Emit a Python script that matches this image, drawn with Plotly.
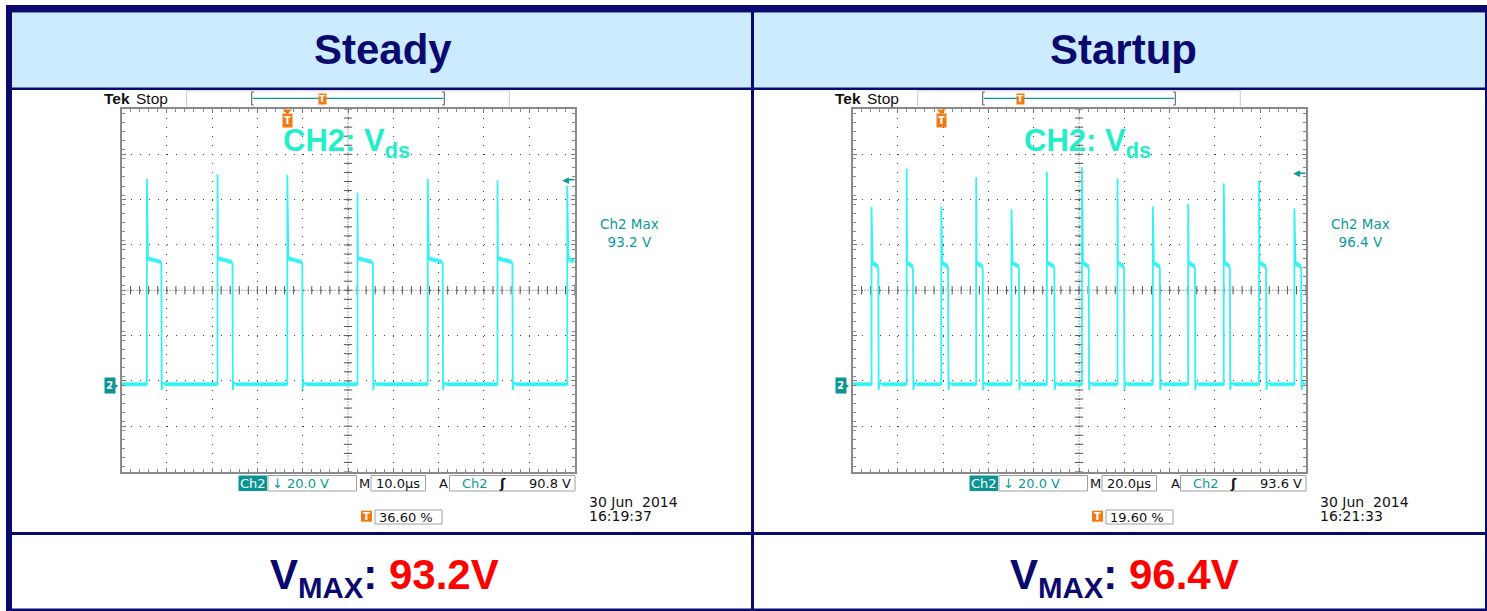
import numpy as np
import plotly.graph_objects as go

# ---------------- data ----------------
panel_titles = ["Steady", "Startup"]
vmax_labels = ["93.2V", "96.4V"]
ch2_max_labels = ["93.2 V", "96.4 V"]
volts_per_div = ["20.0 V", "20.0 V"]
time_per_div = ["10.0µs", "20.0µs"]
trigger_levels = [90.8, 93.6]          # V
trigger_level_labels = ["90.8 V", "93.6 V"]
trigger_pos_pct = [36.60, 19.60]
trigger_pos_labels = ["36.60 %", "19.60 %"]
dates = ["30 Jun  2014", "30 Jun  2014"]
times = ["16:19:37", "16:21:33"]

# steady (10 us/div, 100 us window)
steady_rise_us = [5.6, 21.2, 36.6, 52.1, 67.6, 83.0, 98.4]
steady_fall_us = [8.8, 24.5, 39.9, 55.5, 70.9, 86.3]
steady_peak_v = [91.3, 93.2, 93.0, 85.0, 91.3, 90.5, 88.2]
steady_plateau_v = 55.0

# startup (20 us/div, 200 us window)
startup_rise_us = [8.4, 23.9, 39.2, 54.6, 70.2, 85.8, 101.3, 117.0, 132.6, 148.2, 163.9, 179.5, 195.1]
startup_fall_us = [11.4, 26.7, 42.2, 57.5, 73.5, 89.1, 104.3, 119.9, 135.7, 151.2, 166.6, 182.6, 198.1]
startup_peak_v = [78.8, 95.6, 79.0, 91.9, 77.6, 94.2, 96.4, 91.3, 79.0, 80.2, 89.2, 90.5, 78.1]
startup_plateau_v = 53.0

x_ranges = [[0, 100], [0, 200]]
y_range = [-38, 122]   # 20 V/div, ground 2.1 div below centre

# ---------------- helpers ----------------
W, H = 1487, 611
NAVY = "#0A0A6E"
TEAL = "#0A9A9A"
TRACE = "#33F2F2"
ORANGE = "#F07A10"
SCOPE_FONT = "DejaVu Sans"
TITLE_FONT = "Liberation Sans, Arial"


def X(p):
    return p / W


def Y(p):
    return 1 - p / H


def wave(rise, fall, peak, plateau, t_end, dt):
    xs, ys = [0.0], [0.5]
    for i, r in enumerate(rise):
        xs += [r, r, r + dt, r + 3 * dt]
        ys += [0.5, peak[i], plateau + 2.5, plateau + 1]
        if i < len(fall):
            f = fall[i]
            xs += [f, f + dt, f + 4 * dt, f + 10 * dt]
            ys += [plateau - 1, -2.0, 1.5, 0.5]
        else:
            xs += [t_end]
            ys += [plateau]
    if len(fall) == len(rise):
        xs.append(t_end)
        ys.append(0.5)
    return xs, ys


def band(rise, fall, plateau, t_end, dt):
    """flat (noisy, thick) parts of the trace: baseline and plateau segments"""
    xs, ys = [], []
    start = 0.0
    for i, r in enumerate(rise):
        xs += [start, r - dt, None]
        ys += [0.5, 0.5, None]
        end = fall[i] if i < len(fall) else t_end
        xs += [r + 3 * dt, end - dt, None]
        ys += [plateau + 1, plateau - 0.5, None]
        start = end + 10 * dt
    if len(fall) == len(rise):
        xs += [start, t_end]
        ys += [0.5, 0.5]
    return xs, ys


fig = go.Figure()
shapes = []
annots = []

# ---------------- table ----------------
def rect(x0, y0, x1, y1, fill, line=None):
    shapes.append(dict(type="rect", xref="paper", yref="paper",
                       x0=X(x0), x1=X(x1), y0=Y(y1), y1=Y(y0),
                       fillcolor=fill, line=dict(width=0) if line is None else line,
                       layer="below"))

rect(12, 12.5, 1487, 88, "#CCEBFF")
rect(6, 5, 1487, 12.5, NAVY)
rect(6, 5, 12, 611, NAVY)
rect(1485, 5, 1487, 611, NAVY)
rect(6, 87.5, 1487, 90, NAVY)
rect(6, 532, 1487, 535, NAVY)
rect(6, 608.5, 1487, 611, NAVY)
rect(751, 5, 754, 611, NAVY)

for i, cx in enumerate([383, 1123]):
    annots.append(dict(xref="paper", yref="paper", x=X(cx), y=Y(50), text="<b>%s</b>" % panel_titles[i],
                       showarrow=False, xanchor="center", yanchor="middle",
                       font=dict(family=TITLE_FONT, size=42, color=NAVY)))
    annots.append(dict(xref="paper", yref="paper", x=X(cx + 1), y=Y(577),
                       text="<b>V<sub>MAX</sub>: <span style='color:#FF0000'>%s</span></b>" % vmax_labels[i],
                       showarrow=False, xanchor="center", yanchor="middle",
                       font=dict(family=TITLE_FONT, size=42, color=NAVY)))

# ---------------- scopes ----------------
dom_left = [121.5, 852.5]
gw = 453.0
dom_top, dom_bot = 109.0, 471.5

waves = [
    wave(steady_rise_us, steady_fall_us, steady_peak_v, steady_plateau_v, x_ranges[0][1], 0.08),
    wave(startup_rise_us, startup_fall_us, startup_peak_v, startup_plateau_v, x_ranges[1][1], 0.16),
]
bands = [
    band(steady_rise_us, steady_fall_us, steady_plateau_v, x_ranges[0][1], 0.08),
    band(startup_rise_us, startup_fall_us, startup_plateau_v, x_ranges[1][1], 0.16),
]

layout_axes = {}
for k in range(2):
    xa = "x" if k == 0 else "x2"
    ya = "y" if k == 0 else "y2"
    xr = x_ranges[k]
    xdiv = (xr[1] - xr[0]) / 10
    ydiv = 20
    xkey = "xaxis" if k == 0 else "xaxis2"
    ykey = "yaxis" if k == 0 else "yaxis2"
    common = dict(showticklabels=False, zeroline=False, showline=True, linecolor="#8A8A8A",
                  linewidth=2, mirror="ticks", ticks="inside", ticklen=4, tickcolor="#777",
                  showgrid=True, gridcolor="#444", gridwidth=1, griddash="1px,8.06px",
                  fixedrange=True)
    layout_axes[xkey] = dict(common, range=xr, domain=[X(dom_left[k]), X(dom_left[k] + gw)],
                             anchor=ya, tick0=0, dtick=xdiv,
                             minor=dict(dtick=xdiv / 5, ticks="inside", ticklen=3, tickcolor="#888", showgrid=False))
    layout_axes[ykey] = dict(common, range=y_range, domain=[Y(dom_bot), Y(dom_top)],
                             anchor=xa, tick0=y_range[0], dtick=ydiv,
                             minor=dict(dtick=ydiv / 5, ticks="inside", ticklen=3, tickcolor="#888", showgrid=False))

    xc = (xr[0] + xr[1]) / 2
    yc = (y_range[0] + y_range[1]) / 2
    # centre cross of the graticule
    fig.add_trace(go.Scatter(x=[xr[0], xr[1]], y=[yc, yc], xaxis=xa, yaxis=ya, mode="lines",
                             line=dict(color="#555", width=1, dash="1px,2px"), hoverinfo="skip", showlegend=False))
    fig.add_trace(go.Scatter(x=[xc, xc], y=y_range, xaxis=xa, yaxis=ya, mode="lines",
                             line=dict(color="#555", width=1, dash="1px,2px"), hoverinfo="skip", showlegend=False))
    mx = np.arange(xr[0], xr[1] + 1e-9, xdiv / 5)
    my = np.arange(y_range[0], y_range[1] + 1e-9, ydiv / 5)
    fig.add_trace(go.Scatter(x=mx, y=[yc] * len(mx), xaxis=xa, yaxis=ya, mode="markers",
                             marker=dict(symbol="line-ns", size=6, line=dict(color="#555", width=1)),
                             hoverinfo="skip", showlegend=False))
    fig.add_trace(go.Scatter(x=[xc] * len(my), y=my, xaxis=xa, yaxis=ya, mode="markers",
                             marker=dict(symbol="line-ew", size=6, line=dict(color="#555", width=1)),
                             hoverinfo="skip", showlegend=False))
    # waveform: thick flat parts + thin full trace
    bx, by = bands[k]
    fig.add_trace(go.Scatter(x=bx, y=by, xaxis=xa, yaxis=ya, mode="lines", connectgaps=False,
                             line=dict(color=TRACE, width=4), opacity=0.9, hoverinfo="skip", showlegend=False))
    wx, wy = waves[k]
    fig.add_trace(go.Scatter(x=wx, y=wy, xaxis=xa, yaxis=ya, mode="lines",
                             line=dict(color=TRACE, width=1.8), hoverinfo="skip", showlegend=False))

    dx = dom_left[k] - dom_left[0]

    # Tek Stop
    annots.append(dict(xref="paper", yref="paper", x=X(102 + dx), y=Y(98), xanchor="left", yanchor="middle",
                       text="<b>Tek</b>", showarrow=False,
                       font=dict(family="Liberation Sans", size=15.5, color="#111")))
    annots.append(dict(xref="paper", yref="paper", x=X(134 + dx), y=Y(98), xanchor="left", yanchor="middle",
                       text="Stop", showarrow=False,
                       font=dict(family="Liberation Sans", size=15.5, color="#111")))
    # top status bar separators and record bracket
    for sx in [186.7, 509.3]:
        shapes.append(dict(type="line", xref="paper", yref="paper", x0=X(sx + dx), x1=X(sx + dx),
                           y0=Y(106), y1=Y(90.5), line=dict(color="#C8C8C8", width=1)))
    shapes.append(dict(type="line", xref="paper", yref="paper", x0=X(186.7 + dx), x1=X(509.3 + dx),
                       y0=Y(90.8), y1=Y(90.8), line=dict(color="#D0D0D0", width=1)))
    b0, b1 = 251.7 + dx, 444.3 + dx
    for bxx, sgn in [(b0, 1), (b1, -1)]:
        shapes.append(dict(type="path", xref="paper", yref="paper",
                           path="M %f %f L %f %f L %f %f L %f %f" % (
                               X(bxx + 2 * sgn), Y(92), X(bxx), Y(92), X(bxx), Y(105), X(bxx + 2 * sgn), Y(105)),
                           line=dict(color="#555", width=1)))
    shapes.append(dict(type="line", xref="paper", yref="paper", x0=X(b0 + 1), x1=X(b1 - 1), y0=Y(98.3), y1=Y(98.3),
                       line=dict(color=TEAL, width=1.2)))
    tb = b0 + (b1 - b0) * trigger_pos_pct[k] / 100
    annots.append(dict(xref="paper", yref="paper", x=X(tb), y=Y(98.5), xanchor="center", yanchor="middle",
                       text="<b>T</b>", showarrow=False, bgcolor=ORANGE, borderpad=0,
                       font=dict(family=SCOPE_FONT, size=9, color="white")))
    # trigger position marker on graticule top (down-pointing tab + T box)
    tx = xr[0] + (xr[1] - xr[0]) * trigger_pos_pct[k] / 100
    hw = (xr[1] - xr[0]) * 4.5 / gw
    shapes.append(dict(type="path", xref=xa, yref="paper",
                       path="M %f %f L %f %f L %f %f Z" % (tx - hw, Y(109.5), tx + hw, Y(109.5), tx, Y(114.5)),
                       fillcolor=ORANGE, line=dict(width=0)))
    annots.append(dict(xref=xa, yref="paper", x=tx, y=Y(120.5), xanchor="center", yanchor="middle",
                       text="<b>T</b>", showarrow=False, bgcolor=ORANGE, borderpad=1,
                       font=dict(family=SCOPE_FONT, size=10, color="white")))
    # CH2: Vds label
    annots.append(dict(xref="paper", yref="paper", x=X([281, 1022][k]), y=Y(143), xanchor="left", yanchor="middle",
                       text="<b>CH2: V<sub>ds</sub></b>", showarrow=False,
                       font=dict(family="Liberation Sans, Arial", size=31, color="#22EEC8")))
    # trigger level arrow on right edge
    annots.append(dict(xref="paper", yref=ya, x=X(dom_left[k] + gw - 4), y=trigger_levels[k],
                       xanchor="right", yanchor="middle", text="◀", showarrow=False,
                       font=dict(family=SCOPE_FONT, size=9, color=TEAL)))
    shapes.append(dict(type="line", xref="paper", yref=ya, x0=X(dom_left[k] + gw - 6), x1=X(dom_left[k] + gw),
                       y0=trigger_levels[k], y1=trigger_levels[k], line=dict(color=TEAL, width=1.5)))
    # ground marker
    annots.append(dict(xref="paper", yref=ya, x=X(104 + dx), y=0, xanchor="left", yanchor="middle",
                       text="<b>2</b>", showarrow=False, bgcolor="#0A9494", borderpad=1,
                       font=dict(family=SCOPE_FONT, size=11, color="white")))
    annots.append(dict(xref="paper", yref=ya, x=X(121 + dx), y=0, xanchor="right", yanchor="middle",
                       text="▶", showarrow=False,
                       font=dict(family=SCOPE_FONT, size=8, color="#0A9494")))
    # Ch2 Max readout
    annots.append(dict(xref="paper", yref="paper", x=X(629 + dx), y=Y(233), xanchor="center", yanchor="middle",
                       text="Ch2 Max<br>%s" % ch2_max_labels[k], showarrow=False,
                       font=dict(family=SCOPE_FONT, size=13.5, color=TEAL)))
    # bottom readouts
    rect(238.5 + dx, 475.5, 267 + dx, 491, "#0A9494")
    annots.append(dict(xref="paper", yref="paper", x=X(252.8 + dx), y=Y(483.5), xanchor="center", yanchor="middle",
                       text="Ch2", showarrow=False, font=dict(family=SCOPE_FONT, size=13, color="white")))
    for (x0, x1) in [(268, 356.5), (371, 425.5), (449.5, 575)]:
        shapes.append(dict(type="rect", xref="paper", yref="paper", x0=X(x0 + dx), x1=X(x1 + dx),
                           y0=Y(491), y1=Y(475.5), line=dict(color="#A0A0A0", width=1)))
    annots.append(dict(xref="paper", yref="paper", x=X(270 + dx), y=Y(483.5), xanchor="left", yanchor="middle",
                       text="↓ " + volts_per_div[k], showarrow=False,
                       font=dict(family=SCOPE_FONT, size=13, color=TEAL)))
    annots.append(dict(xref="paper", yref="paper", x=X(364 + dx), y=Y(483.5), xanchor="center", yanchor="middle",
                       text="M", showarrow=False, font=dict(family=SCOPE_FONT, size=13, color="#111")))
    annots.append(dict(xref="paper", yref="paper", x=X(398.3 + dx), y=Y(483.5), xanchor="center", yanchor="middle",
                       text=time_per_div[k], showarrow=False, font=dict(family=SCOPE_FONT, size=13, color="#111")))
    annots.append(dict(xref="paper", yref="paper", x=X(444 + dx), y=Y(483.5), xanchor="center", yanchor="middle",
                       text="A", showarrow=False, font=dict(family=SCOPE_FONT, size=13, color="#111")))
    annots.append(dict(xref="paper", yref="paper", x=X(474.5 + dx), y=Y(483.5), xanchor="center", yanchor="middle",
                       text="Ch2", showarrow=False, font=dict(family=SCOPE_FONT, size=13, color=TEAL)))
    annots.append(dict(xref="paper", yref="paper", x=X(502 + dx), y=Y(483.5), xanchor="center", yanchor="middle",
                       text="<b>ʃ</b>", showarrow=False, font=dict(family=SCOPE_FONT, size=13, color="#111")))
    annots.append(dict(xref="paper", yref="paper", x=X(573 + dx), y=Y(483.5), xanchor="right", yanchor="middle",
                       text=trigger_level_labels[k], showarrow=False, font=dict(family=SCOPE_FONT, size=13, color="#111")))
    rect(361 + dx, 510.7, 372 + dx, 521.7, ORANGE)
    annots.append(dict(xref="paper", yref="paper", x=X(366.5 + dx), y=Y(516.2), xanchor="center", yanchor="middle",
                       text="<b>T</b>", showarrow=False, font=dict(family=SCOPE_FONT, size=10, color="white")))
    shapes.append(dict(type="rect", xref="paper", yref="paper", x0=X(375 + dx), x1=X(442 + dx),
                       y0=Y(524), y1=Y(510), line=dict(color="#A0A0A0", width=1)))
    annots.append(dict(xref="paper", yref="paper", x=X(377 + dx), y=Y(517), xanchor="left", yanchor="middle",
                       text=trigger_pos_labels[k], showarrow=False, font=dict(family=SCOPE_FONT, size=13, color="#111")))
    annots.append(dict(xref="paper", yref="paper", x=X(587 + dx), y=Y(501.5), xanchor="left", yanchor="middle",
                       text=dates[k].replace("  ", "&nbsp; "), showarrow=False,
                       font=dict(family=SCOPE_FONT, size=14, color="#111")))
    annots.append(dict(xref="paper", yref="paper", x=X(587 + dx), y=Y(516), xanchor="left", yanchor="middle",
                       text=times[k], showarrow=False, font=dict(family=SCOPE_FONT, size=14, color="#111")))

fig.update_layout(width=W, height=H, margin=dict(l=0, r=0, t=0, b=0),
                  paper_bgcolor="white", plot_bgcolor="white",
                  showlegend=False, shapes=shapes, annotations=annots, **layout_axes)

fig.write_html("out.html", config={"displayModeBar": False},
               post_script="document.body.style.margin='0px';document.body.style.overflow='hidden';")
